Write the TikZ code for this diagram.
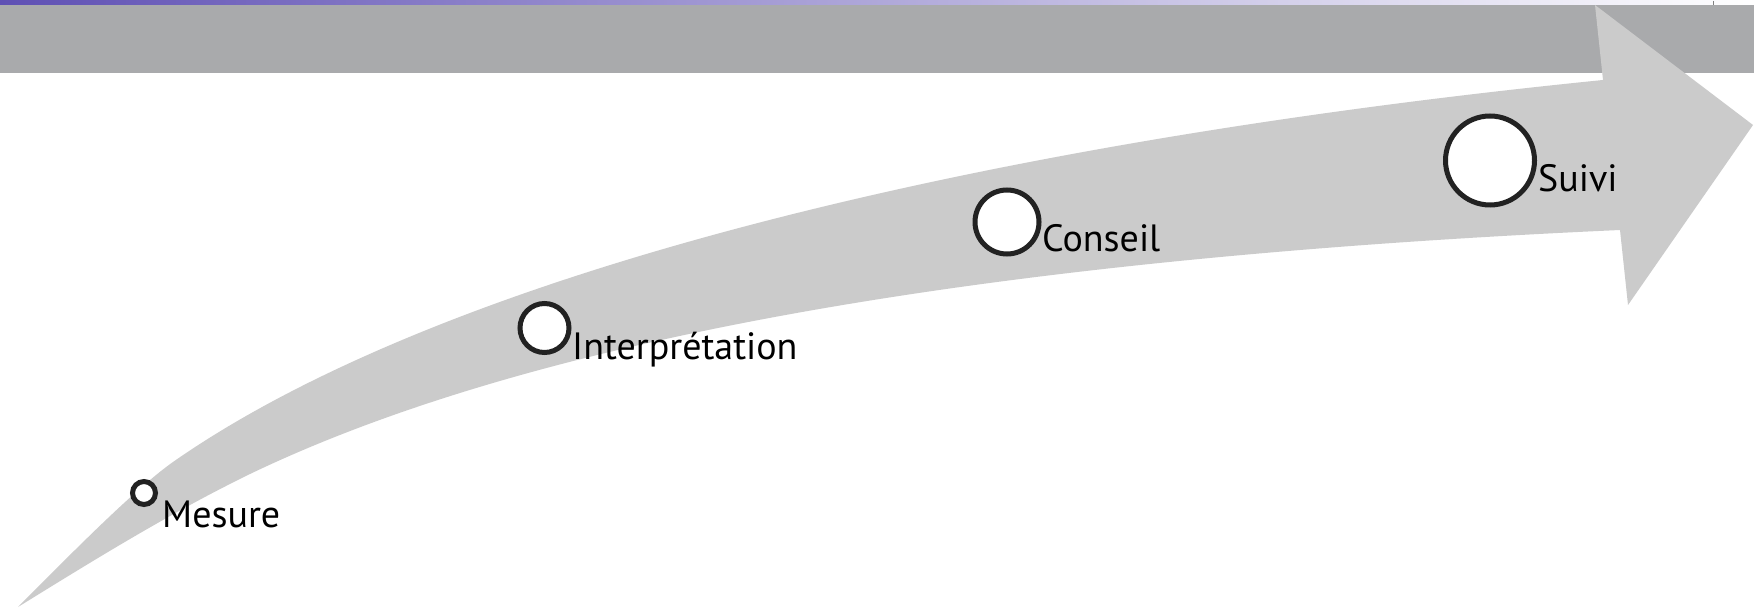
\documentclass[tikz,border=0pt]{standalone}
\usepackage{fontspec}
\setmainfont{PT Sans}
\definecolor{bandgray}{RGB}{169,170,172}
\definecolor{arrowgray}{RGB}{203,203,203}
\definecolor{ringc}{RGB}{34,34,34}
\definecolor{stripL}{RGB}{95,80,180}
\definecolor{stripM}{RGB}{200,196,228}
\begin{document}
\begin{tikzpicture}[x=1pt,y=-1pt,
  ring/.style={circle, draw=ringc, fill=white, line width=5pt, inner sep=0pt},
  lbl/.style={anchor=base west, inner sep=0pt, font=\fontsize{38}{44}\selectfont, text=black}]
\fill[white] (0,0) rectangle (1754,609);
\useasboundingbox (0,0) rectangle (1754,609);
% top band
\fill[bandgray] (0,5) rectangle (1754,73);
\shade[left color=stripL, middle color=stripM, right color=white] (0,0) rectangle (1754,5);
\draw[gray, line width=1pt] (1713,1) -- (1713,5);
% curved arrow
\fill[arrowgray] (18,607)
  .. controls (94,560) and (170,513) .. (250,474)
  .. controls (548,331) and (1021,257) .. (1620,230)
  -- (1628,305) -- (1753,125) -- (1595,5) -- (1603,80)
  .. controls (956,145) and (435,279) .. (173,462)
  .. controls (132,491) and (60,565) .. (18,607) -- cycle;
% steps
\node[ring, minimum size=23pt] (c1) at (144,493) {};
\node[ring, minimum size=49pt] (c2) at (544.5,328) {};
\node[ring, minimum size=64pt] (c3) at (1007,222) {};
\node[ring, minimum size=89pt] (c4) at (1490,160.5) {};
\node[lbl] (t1) at (162,527) {Mesure};
\node[lbl] (t2) at (572,360) {Interprétation};
\node[lbl] (t3) at (1042,252) {Conseil};
\node[lbl] (t4) at (1538,192) {Suivi};
\end{tikzpicture}
\end{document}
